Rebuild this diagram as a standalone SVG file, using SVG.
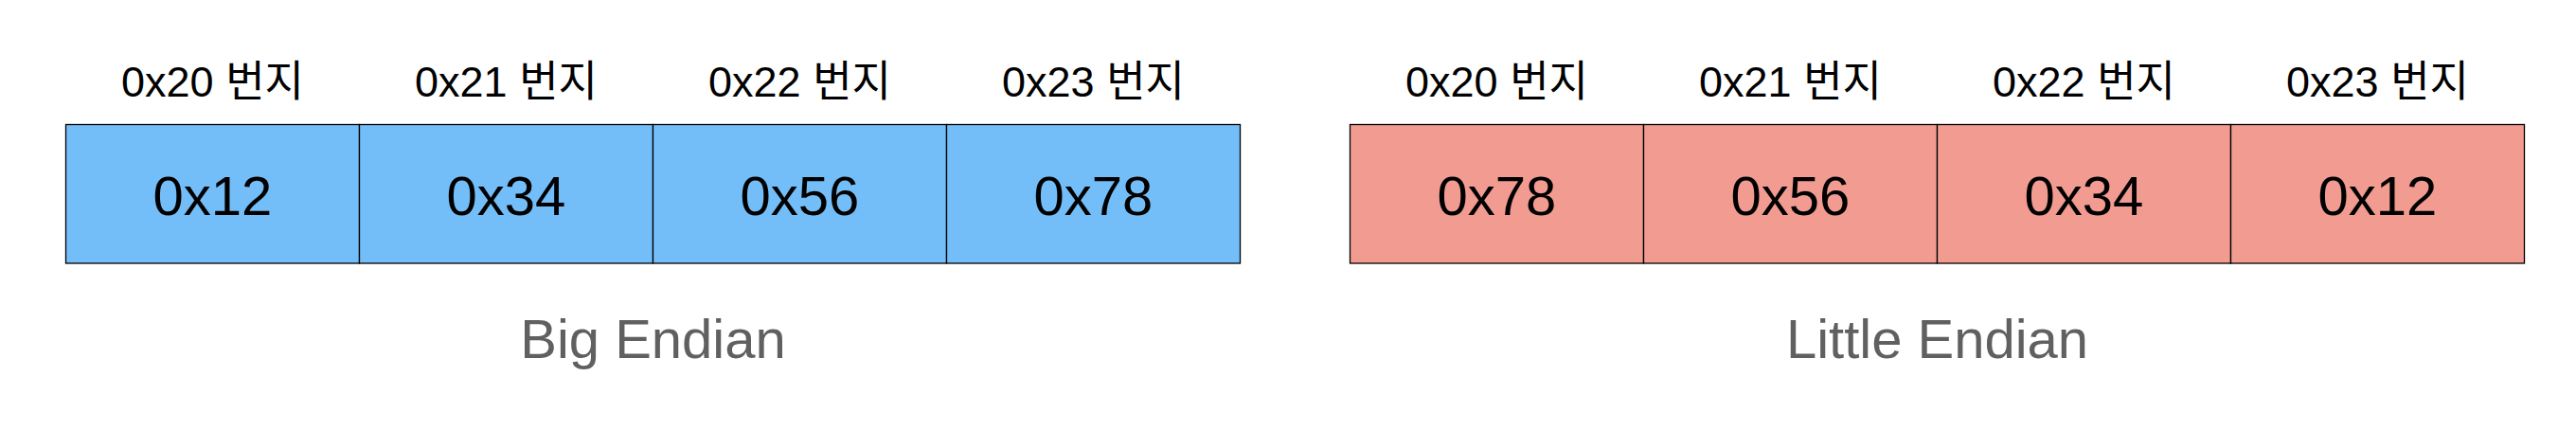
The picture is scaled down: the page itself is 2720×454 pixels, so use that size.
<svg xmlns="http://www.w3.org/2000/svg" width="2720" height="454" viewBox="0 0 2720 454">
<style>
.cell{stroke:#000;stroke-width:1.3}
.big{fill:#73bef8}
.lit{fill:#f19b91}
.addr{font-family:"Liberation Sans","Noto Sans CJK KR",sans-serif;font-size:45px;fill:#000;text-anchor:middle}
.val{font-family:"Liberation Sans",Arial,sans-serif;font-size:58px;fill:#000;text-anchor:middle}
.cap{font-family:"Liberation Sans",Arial,sans-serif;font-size:58px;fill:#606060;text-anchor:middle}
</style>
<rect width="2720" height="454" fill="#ffffff"/>
<g id="big-endian">
<g id="big-0"><text class="addr" x="224.5" y="102">0x20 번지</text><rect class="cell big" x="69.5" y="131.5" width="310" height="146.5"/><text class="val" x="224.5" y="227">0x12</text></g>
<g id="big-1"><text class="addr" x="534.5" y="102">0x21 번지</text><rect class="cell big" x="379.5" y="131.5" width="310" height="146.5"/><text class="val" x="534.5" y="227">0x34</text></g>
<g id="big-2"><text class="addr" x="844.5" y="102">0x22 번지</text><rect class="cell big" x="689.5" y="131.5" width="310" height="146.5"/><text class="val" x="844.5" y="227">0x56</text></g>
<g id="big-3"><text class="addr" x="1154.5" y="102">0x23 번지</text><rect class="cell big" x="999.5" y="131.5" width="310" height="146.5"/><text class="val" x="1154.5" y="227">0x78</text></g>
<text id="big-label" class="cap" x="689.5" y="378">Big Endian</text>
</g>
<g id="little-endian">
<g id="lit-0"><text class="addr" x="1580.5" y="102">0x20 번지</text><rect class="cell lit" x="1425.5" y="131.5" width="310" height="146.5"/><text class="val" x="1580.5" y="227">0x78</text></g>
<g id="lit-1"><text class="addr" x="1890.5" y="102">0x21 번지</text><rect class="cell lit" x="1735.5" y="131.5" width="310" height="146.5"/><text class="val" x="1890.5" y="227">0x56</text></g>
<g id="lit-2"><text class="addr" x="2200.5" y="102">0x22 번지</text><rect class="cell lit" x="2045.5" y="131.5" width="310" height="146.5"/><text class="val" x="2200.5" y="227">0x34</text></g>
<g id="lit-3"><text class="addr" x="2510.5" y="102">0x23 번지</text><rect class="cell lit" x="2355.5" y="131.5" width="310" height="146.5"/><text class="val" x="2510.5" y="227">0x12</text></g>
<text id="lit-label" class="cap" x="2045.5" y="378">Little Endian</text>
</g>
<g id="connectors"/>
</svg>
